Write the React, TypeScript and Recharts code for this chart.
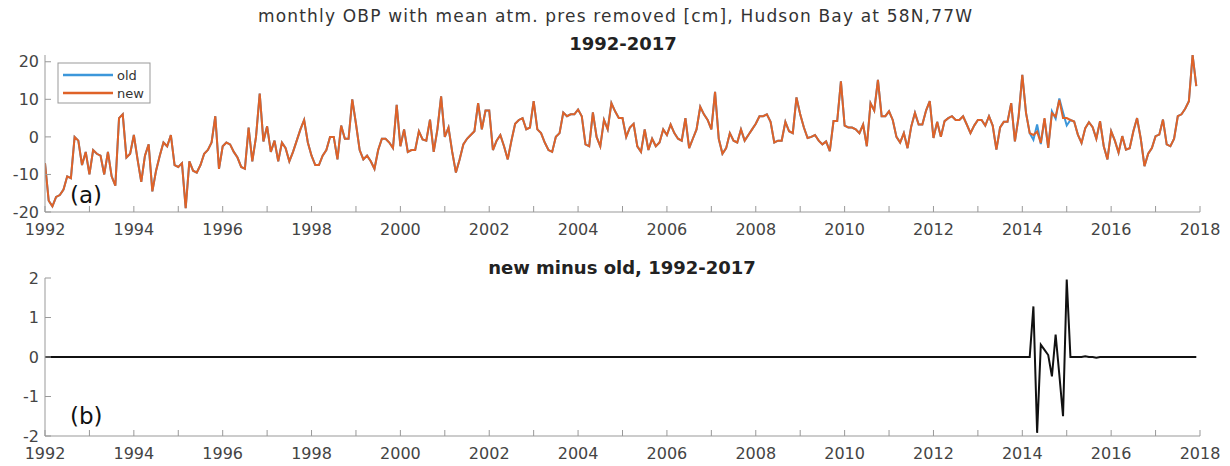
import { Line, LineChart, XAxis, YAxis } from "recharts";

// monthly OBP, "new" product, Jan 1992 .. Dec 2017 [cm]
const newObp: number[] = [
  // 1992
  -7, -17, -18.5, -16, -15.5, -14, -10.5, -11, 0, -1, -7.5, -4,
  // 1993
  -10, -3.5, -4.5, -5, -10, -4, -10.5, -13, 5, 6, -5.5, -4.5,
  // 1994
  0.5, -6, -12, -5, -2, -14.5, -9, -5, -1.5, -2.5, 0.5, -7.5,
  // 1995
  -8, -7, -19, -6.5, -9, -9.5, -7.5, -4.5, -3.5, -1.5, 5.5, -8.5,
  // 1996
  -2.5, -1.5, -2, -4, -5.5, -8, -8.5, 2.5, -6.5, 0, 11.5, -1.2,
  // 1997
  2.8, -4, -1, -6.5, -1.5, -3, -6.5, -4, -1, 2, 4.5, -1.5,
  // 1998
  -5, -7.5, -7.5, -5, -3.5, 0, 0, -6, 3, -0.5, -0.5, 10,
  // 1999
  3.5, -3.5, -6, -5, -6.5, -8.5, -3.5, -0.5, -0.5, -1.5, -3, 8.5,
  // 2000
  -2.5, 2, -4, -3.5, -3.5, 1.5, -0.7, -1, 4.6, -4, 2, 10.8,
  // 2001
  0, 2.5, -4, -9.5, -6, -2, -0.5, 0.5, 1.5, 9, 2, 7,
  // 2002
  7, -3.5, -1, 0.5, -2.5, -6, -1, 3.5, 4.5, 5, 2, 2.5,
  // 2003
  9.5, 2, 1, -1.5, -3.5, -4, 0, 1, 6.5, 5.5, 6, 6,
  // 2004
  7.3, 5.5, -2, -2.5, 6.5, 0, -2.5, 4.5, 2, 9, 6.8, 5,
  // 2005
  5, 0, 2.5, 3.5, -2.5, -4, 2, -3.5, -0.5, -2.5, -1.5, 2,
  // 2006
  0.5, 3.3, 1, -0.5, -1, 5, -3, -0.5, 2, 8, 6, 4.5,
  // 2007
  2, 12, -0.5, -4.5, -3, 1, -1, -1.5, 2, -1, 0.5, 2,
  // 2008
  3.5, 5.5, 5.5, 6, 4, -1.5, -1, -1, 4, 1.5, 1, 10.5,
  // 2009
  6, 2.5, -0.3, 0, 0.5, -1, -2, -1.2, -3.8, 4.2, 4.2, 14.8,
  // 2010
  3, 2.5, 2.5, 2, 1, 3.3, -2.5, 9, 7, 15.2, 5.5, 5.5,
  // 2011
  6.8, 4.5, 0, -1.5, 1, -3, 2.8, 6.4, 3.3, 3.3, 7, 9.5,
  // 2012
  -0.3, 4, 0, 4.2, 5, 5.5, 4.5, 4.5, 5.5, 3.3, 1, 3,
  // 2013
  4.5, 4.5, 3, 5.5, 3, -3.4, 2.5, 4, 4, 9, -1.2, 5.4,
  // 2014
  16.5, 6.4, 1, 0.5, 1.4, -1.6, 5, -2.9, 6.3, 5.4, 9.8, 5,
  // 2015
  5, 4.5, 4.1, 0.6, -1.6, 2.3, 3.9, 2.6, -0.5, 4.2, -2.5, -6,
  // 2016
  1.5, -1, -4.2, 0.2, -3.4, -3, 1.5, 5, -0.5, -7.8, -4.5, -3,
  // 2017
  0.2, 0.6, 4.6, -2, -2.5, -0.5, 5.5, 6, 7.5, 9.5, 21.8, 13.5,
];

// new minus old, non-zero only around 2014-2015 (starts at Jan 2014)
const diffStartIndex = 264;
const diffValues: number[] = [
  0, 0, 0, 1.28, -1.92, 0.31, 0.18, 0.05, -0.49, 0.57, -0.45, -1.5,
  1.96, 0, 0, 0, 0, 0.02, 0, 0, -0.02, 0,
];

const yearTicks: number[] = [];
for (let y = 1992; y <= 2018; y += 1) yearTicks.push(y);
const topTicks = [-20, -10, 0, 10, 20];
const bottomTicks = [-2, -1, 0, 1, 2];

const series = [
  { key: "old", name: "old", color: "#3C97DA" },
  { key: "new", name: "new", color: "#DF6228" },
];

const rows = newObp.map((v, i) => {
  const j = i - diffStartIndex;
  const d = j >= 0 && j < diffValues.length ? diffValues[j] : 0;
  return { t: 1992 + i / 12, new: v, old: v - d, diff: d };
});

const axisColor = "#999";
const tickStyle = { fill: "#444", fontSize: 16, fontFamily: "DejaVu Sans" };
const yearLabel = (y: number) => (y % 2 === 0 ? String(y) : "");

const App = () => {
  const xAxes = (
    <>
      <XAxis
        xAxisId="b"
        dataKey="t"
        type="number"
        domain={[1992, 2018]}
        ticks={yearTicks}
        interval={0}
        tickFormatter={yearLabel}
        height={30}
        tickSize={-6}
        tickMargin={18}
        stroke={axisColor}
        tick={tickStyle}
        allowDataOverflow
      />
      <XAxis
        xAxisId="t"
        orientation="top"
        dataKey="t"
        type="number"
        domain={[1992, 2018]}
        ticks={yearTicks}
        interval={0}
        height={0}
        tickSize={-6}
        tick={false}
        stroke={axisColor}
        allowDataOverflow
      />
    </>
  );

  return (
    <div
      style={{
        position: "absolute",
        left: 0,
        top: 0,
        width: 1230,
        height: 466,
        background: "#fff",
      }}
    >
      <div style={{ position: "absolute", left: 0, top: 0 }}>
        <LineChart
          width={1230}
          height={242}
          data={rows}
          margin={{ top: 55, right: 30, bottom: 0, left: 0 }}
        >
          {xAxes}
          <YAxis
            yAxisId="l"
            type="number"
            domain={[-20, 21.8]}
            ticks={topTicks}
            interval={0}
            width={45}
            tickSize={-6}
            tickMargin={12}
            stroke={axisColor}
            tick={tickStyle}
            allowDataOverflow
          />
          <YAxis
            yAxisId="r"
            orientation="right"
            type="number"
            domain={[-20, 21.8]}
            ticks={topTicks}
            interval={0}
            width={0}
            tickSize={-6}
            tick={false}
            stroke={axisColor}
            allowDataOverflow
          />
          {series.map((s) => (
            <Line
              key={s.key}
              xAxisId="b"
              yAxisId="l"
              type="linear"
              dataKey={s.key}
              name={s.name}
              stroke={s.color}
              strokeWidth={2}
              dot={false}
              isAnimationActive={false}
            />
          ))}
        </LineChart>
      </div>
      <div style={{ position: "absolute", left: 0, top: 240 }}>
        <LineChart
          width={1230}
          height={226}
          data={rows}
          margin={{ top: 38, right: 30, bottom: 0, left: 0 }}
        >
          {xAxes}
          <YAxis
            yAxisId="l"
            type="number"
            domain={[-2, 2]}
            ticks={bottomTicks}
            interval={0}
            width={45}
            tickSize={-6}
            tickMargin={12}
            stroke={axisColor}
            tick={tickStyle}
            allowDataOverflow
          />
          <YAxis
            yAxisId="r"
            orientation="right"
            type="number"
            domain={[-2, 2]}
            ticks={bottomTicks}
            interval={0}
            width={0}
            tickSize={-6}
            tick={false}
            stroke={axisColor}
            allowDataOverflow
          />
          <Line
            xAxisId="b"
            yAxisId="l"
            type="linear"
            dataKey="diff"
            stroke="#111"
            strokeWidth={2}
            dot={false}
            isAnimationActive={false}
          />
        </LineChart>
      </div>
      <svg
        width={1230}
        height={466}
        style={{ position: "absolute", left: 0, top: 0, pointerEvents: "none" }}
        fontFamily="DejaVu Sans"
      >
        <text
          x={615}
          y={22}
          textAnchor="middle"
          fontSize={17}
          fill="#333"
          textLength={714}
          lengthAdjust="spacing"
        >
          monthly OBP with mean atm. pres removed [cm], Hudson Bay at 58N,77W
        </text>
        <text x={623} y={50} textAnchor="middle" fontSize={18} fontWeight="bold" fill="#222">
          1992-2017
        </text>
        <text x={622} y={274} textAnchor="middle" fontSize={18} fontWeight="bold" fill="#222">
          new minus old, 1992-2017
        </text>
        <text x={70} y={203} fontSize={23} fill="#111">(a)</text>
        <text x={70} y={424} fontSize={23} fill="#111">(b)</text>
        <rect x={58} y={63} width={92} height={40} fill="#fff" stroke={axisColor} />
        {series.map((s, i) => (
          <g key={s.key}>
            <line x1={63} x2={113} y1={75 + i * 18} y2={75 + i * 18} stroke={s.color} strokeWidth={2.5} />
            <text x={117} y={80 + i * 18} fontSize={13} fill="#333">
              {s.name}
            </text>
          </g>
        ))}
      </svg>
    </div>
  );
};

export default App;
